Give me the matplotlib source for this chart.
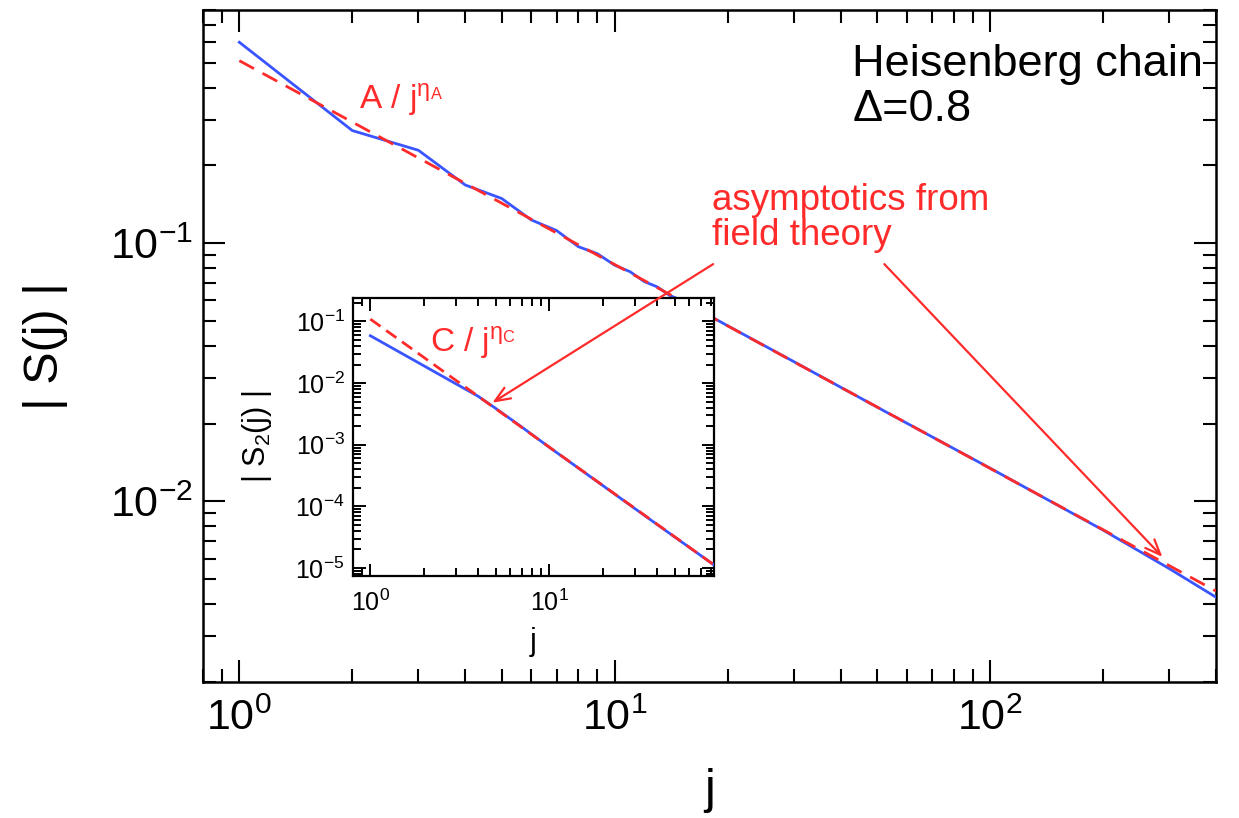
import numpy as np
import matplotlib
matplotlib.use("Agg")
import matplotlib.pyplot as plt
from matplotlib.ticker import LogLocator, NullFormatter, FixedLocator, FixedFormatter

plt.rcParams['font.family'] = ['Liberation Sans', 'DejaVu Sans']
plt.rcParams['mathtext.fontset'] = 'custom'
plt.rcParams['mathtext.rm'] = 'Liberation Sans'
plt.rcParams['mathtext.it'] = 'Liberation Sans:italic'

# ---------------- data ----------------
# main panel: |S(j)|
main_j = [1, 2, 3, 4, 5, 6, 7, 8, 9, 10, 11, 12, 13, 14, 15, 20, 30, 50, 100, 200, 300, 400]
main_S = [0.600, 0.273, 0.229, 0.168, 0.149, 0.123, 0.112, 0.097, 0.091, 0.0822, 0.0775,
          0.0710, 0.0677, 0.0628, 0.0603, 0.0479, 0.0348, 0.0232, 0.01346, 0.00775, 0.0055, 0.00426]
# field theory asymptote A/j^eta_A (straight line in log-log)
fitA_j = [1, 400]
fitA_S = [0.509, 0.0045]

# inset: |S2(j)|
ins_j = [1, 2, 3, 4, 5, 7, 10, 20, 40, 83]
ins_S = [0.0586, 0.0189, 0.00975, 0.0061, 0.0039, 0.00194, 0.000905, 0.000214, 5.05e-5, 1.12e-5]
fitC_j = [1, 83]
fitC_S = [0.109, 1.12e-5]

main_xticks = [1, 10, 100]
main_xticklabels = [r'$\mathdefault{10^{0}}$', r'$\mathdefault{10^{1}}$', r'$\mathdefault{10^{2}}$']
main_yticks = [0.01, 0.1]
main_yticklabels = [r'$\mathdefault{10^{-2}}$', r'$\mathdefault{10^{-1}}$']
ins_xticks = [1, 10]
ins_xticklabels = [r'$\mathdefault{10^{0}}$', r'$\mathdefault{10^{1}}$']
ins_yticks = [1e-5, 1e-4, 1e-3, 1e-2, 1e-1]
ins_yticklabels = [r'$\mathdefault{10^{-5}}$', r'$\mathdefault{10^{-4}}$', r'$\mathdefault{10^{-3}}$',
                   r'$\mathdefault{10^{-2}}$', r'$\mathdefault{10^{-1}}$']

# annotation anchor points
arrow_tail_left = (18.3, 0.0830)
arrow_tail_right = (52.3, 0.0830)
arrow_tip_inset = (4.8, 0.0048)
arrow_tip_main = (288, 0.0061)

RED = '#ff2b2b'
BLUE = '#3a55ff'

fig = plt.figure(figsize=(12.39, 8.18), dpi=100)
ax = fig.add_axes([0.1638, 0.1663, 0.8176, 0.8215])

ax.plot(main_j, main_S, color=BLUE, lw=2.0, zorder=3)
ax.plot(fitA_j, fitA_S, color=RED, lw=2.0, ls=(0, (6, 3.5)), zorder=4)
ax.set_xscale('log')
ax.set_yscale('log')
ax.set_xlim(0.8, 400)
ax.set_ylim(0.002, 0.8)

ax.xaxis.set_major_locator(FixedLocator(main_xticks))
ax.xaxis.set_major_formatter(FixedFormatter(main_xticklabels))
ax.yaxis.set_major_locator(FixedLocator(main_yticks))
ax.yaxis.set_major_formatter(FixedFormatter(main_yticklabels))
ax.xaxis.set_minor_locator(LogLocator(base=10, subs=np.arange(2, 10), numticks=100))
ax.yaxis.set_minor_locator(LogLocator(base=10, subs=np.arange(2, 10), numticks=100))
ax.xaxis.set_minor_formatter(NullFormatter())
ax.yaxis.set_minor_formatter(NullFormatter())
ax.tick_params(which='both', direction='in', top=True, right=True, width=1.5)
ax.tick_params(which='major', length=16, labelsize=31)
ax.tick_params(which='minor', length=9.5)
ax.tick_params(axis='x', which='major', pad=12)
ax.tick_params(axis='y', which='major', pad=7)
for s in ax.spines.values():
    s.set_linewidth(1.8)

ax.set_xlabel('j', fontsize=35)
ax.xaxis.set_label_coords(0.5, -0.128)
ax.set_ylabel('| S(j) |', fontsize=35)
ax.yaxis.set_label_coords(-0.133, 0.5)

ax.text(2.09, 0.332, r'A / j$^{\mathregular{η}_\mathregular{A}}$', color=RED, fontsize=24,
        ha='left', va='baseline')
ax.text(0.641, 0.95, 'Heisenberg chain\nΔ=0.8', transform=ax.transAxes, fontsize=32.5,
        ha='left', va='top', linespacing=1.15)
ax.text(0.503, 0.742, 'asymptotics from\nfield theory', transform=ax.transAxes, fontsize=26.5,
        color=RED, ha='left', va='top', linespacing=0.98)

arrowprops = dict(arrowstyle='->,head_length=1.1,head_width=0.45', color=RED, lw=1.6,
                  shrinkA=0, shrinkB=0)
ax.annotate('', xy=arrow_tip_main, xytext=arrow_tail_right, xycoords='data',
            textcoords='data', arrowprops=arrowprops, zorder=6)

# ---------------- inset ----------------
ins = fig.add_axes([0.2849, 0.2958, 0.2914, 0.3399])
ins.plot(ins_j, ins_S, color=BLUE, lw=2.0, zorder=3)
ins.plot(fitC_j, fitC_S, color=RED, lw=2.0, ls=(0, (4.5, 2.5)), zorder=4)
ins.set_xscale('log')
ins.set_yscale('log')
ins.set_xlim(0.8, 83)
ins.set_ylim(7.4e-6, 0.24)
ins.xaxis.set_major_locator(FixedLocator(ins_xticks))
ins.xaxis.set_major_formatter(FixedFormatter(ins_xticklabels))
ins.yaxis.set_major_locator(FixedLocator(ins_yticks))
ins.yaxis.set_major_formatter(FixedFormatter(ins_yticklabels))
ins.xaxis.set_minor_locator(LogLocator(base=10, subs=np.arange(2, 10), numticks=100))
ins.yaxis.set_minor_locator(LogLocator(base=10, subs=np.arange(2, 10), numticks=100))
ins.xaxis.set_minor_formatter(NullFormatter())
ins.yaxis.set_minor_formatter(NullFormatter())
ins.tick_params(which='both', direction='in', top=True, right=True, width=1.4)
ins.tick_params(which='major', length=9, labelsize=18)
ins.tick_params(which='minor', length=5.5)
ins.tick_params(axis='y', which='major', pad=6)
ins.tick_params(axis='x', which='major', pad=10)
for s in ins.spines.values():
    s.set_linewidth(1.6)
ins.set_xlabel('j', fontsize=22)
ins.xaxis.set_label_coords(0.5, -0.185)
ins.set_ylabel(r'| S$_\mathregular{2}$(j) |', fontsize=22)
ins.yaxis.set_label_coords(-0.22, 0.5)
ins.text(0.213, 0.806, r'C / j$^{\mathregular{η}_\mathregular{C}}$', transform=ins.transAxes,
         color=RED, fontsize=24, ha='left', va='baseline')

ins.annotate('', xy=arrow_tip_inset, xycoords='data', xytext=arrow_tail_left,
             textcoords=ax.transData, arrowprops=arrowprops, annotation_clip=False, zorder=6)

fig.savefig('out.png', dpi=100)
